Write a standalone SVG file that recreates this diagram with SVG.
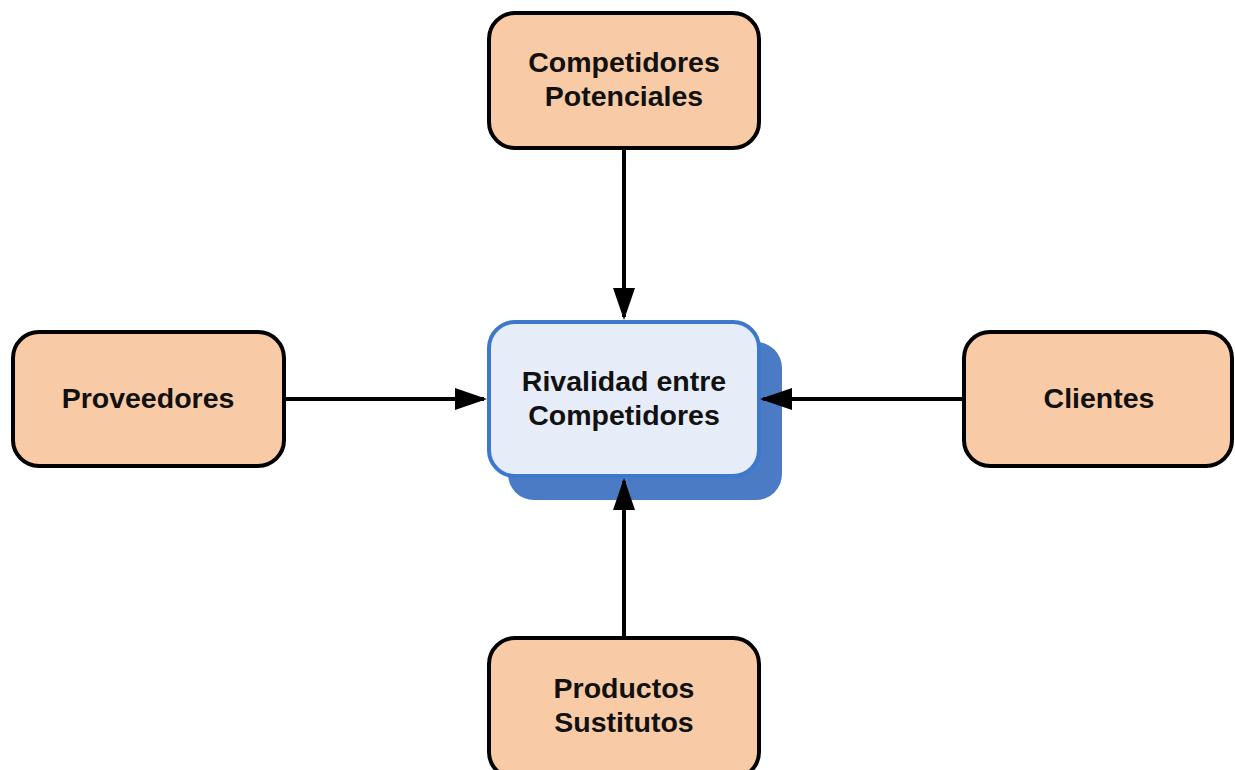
<svg xmlns="http://www.w3.org/2000/svg" width="1235" height="770" viewBox="0 0 1235 770">
  <style>
    .force rect { fill: #f8cba6; stroke: #000; stroke-width: 4; }
    .label { font-family: "Liberation Sans", Arial, sans-serif; font-weight: bold; font-size: 28.5px; fill: #111; text-anchor: middle; }
    .link { stroke: #000; stroke-width: 4; fill: none; marker-end: url(#head); }
  </style>
  <defs>
    <!-- tip sits 3px past the line end so the stroke stays inside the head -->
    <marker id="head" viewBox="0 0 32 22" refX="29" refY="11" markerWidth="32" markerHeight="22" markerUnits="userSpaceOnUse" orient="auto">
      <path d="M0,0 L32,11 L0,22 Z" fill="#000"/>
    </marker>
  </defs>

  <!-- central node with offset shadow -->
  <g id="rivalidad">
    <rect x="508" y="342" width="274" height="158" rx="26" fill="#4a7bc4"/>
    <rect x="489" y="322" width="270" height="154" rx="26" fill="#e6edf8" stroke="#3c78cc" stroke-width="4"/>
    <text class="label" x="624" y="391">Rivalidad entre</text>
    <text class="label" x="624" y="425">Competidores</text>
  </g>

  <g id="competidores-potenciales" class="force">
    <rect x="489" y="13" width="270" height="135" rx="26"/>
    <text class="label" x="624" y="72">Competidores</text>
    <text class="label" x="624" y="106">Potenciales</text>
  </g>

  <g id="proveedores" class="force">
    <rect x="13" y="332" width="271" height="134" rx="26"/>
    <text class="label" x="148" y="408">Proveedores</text>
  </g>

  <g id="clientes" class="force">
    <rect x="964" y="332" width="268" height="134" rx="26"/>
    <text class="label" x="1099" y="408">Clientes</text>
  </g>

  <g id="productos-sustitutos" class="force">
    <rect x="489" y="638" width="270" height="140" rx="26"/>
    <text class="label" x="624" y="698">Productos</text>
    <text class="label" x="624" y="732">Sustitutos</text>
  </g>

  <!-- connectors, drawn last so the arrowheads sit over the shadow -->
  <g id="connectors">
    <line class="link" x1="624" y1="150" x2="624" y2="317"/>
    <line class="link" x1="286" y1="399" x2="484" y2="399"/>
    <line class="link" x1="962" y1="399" x2="763" y2="399"/>
    <line class="link" x1="624" y1="636" x2="624" y2="481"/>
  </g>
</svg>
